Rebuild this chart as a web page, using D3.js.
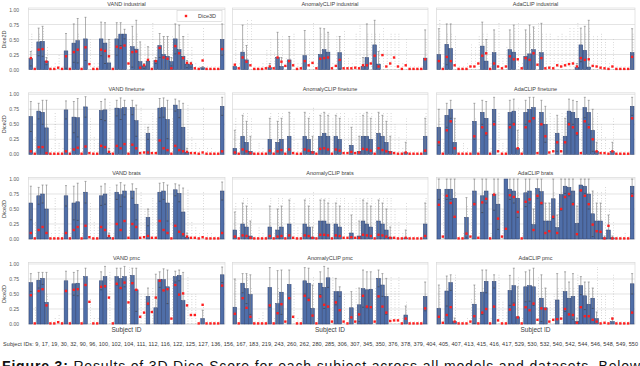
<!DOCTYPE html>
<html>
<head>
<meta charset="utf-8">
<script src="https://cdn.jsdelivr.net/npm/d3@7"></script>
<style>
body { margin: 0; background: #fff; }
text { font-family: "Liberation Sans", Arial, sans-serif; }
</style>
</head>
<body>
<div id="vis"></div>
<script>
// subjects shown on every panel
var subjects = [9, 17, 19, 30, 32, 90, 96, 100, 102, 104, 111, 112, 116, 122, 125, 127, 136, 156, 167, 183,
  219, 243, 260, 262, 280, 285, 306, 307, 345, 350, 376, 378, 379, 404, 405, 407, 413, 415, 416, 417,
  529, 530, 532, 540, 542, 544, 546, 548, 549, 550];

var yTicks = [0, 0.25, 0.5, 0.75, 1];

// ---- VAND ----
var vandIndMean = [0.18,0,0.46,0.47,0.14,0,0,0,0,0.31,0,0.44,0.48,0,0.51,0,0,0,0.51,0.44,0.11,0,0.51,0.59,0.59,0,0.38,0.34,0.13,0.06,0.14,0,0.15,0.40,0.25,0.22,0.13,0.51,0.33,0.22,0.09,0.08,0,0,0.03,0,0,0,0,0.50];
var vandIndHi   = [0.30,0,0.69,0.72,0.20,0,0,0,0,0.60,0,0.76,0.85,0,0.87,0,0,0,0.79,0.78,0.50,0,0.78,0.78,0.67,0,0.72,0.82,0.46,0.10,0.38,0,0.20,0.60,0.55,0.55,0.20,0.76,0.74,0.55,0.15,0.12,0,0,0.05,0,0,0,0,0.76];
var vandIndDice = [0.19,0.01,0.33,0.34,0.13,0.01,0.01,0.03,0.01,0.22,0.01,0.29,0.33,0.01,0.37,0.09,0.01,0.01,0.33,0.31,0.22,0.01,0.38,0.36,0.40,0.10,0.29,0.30,0.03,0.07,0.16,0.01,0.14,0.36,0.20,0.18,0.02,0.39,0.27,0.19,0.11,0.10,0.02,0.01,0.15,0.01,0.01,0.01,0.01,0.34];
var vandIndDots = [0.62,0.05,0.60,0.70,0.37,0.05,0.10,0.27,0.05,0.30,0.05,0.40,0.60,0.05,0.50,0.50,0.10,0.10,0.50,0.50,0.50,0.05,0.55,0.50,0.50,0.50,0.55,0.60,0.45,0.45,0.40,0.80,0.40,0.50,0.55,0.55,0.55,0.50,0.50,0.55,0.60,0.40,0.10,0.05,0.72,0.05,0.05,0.05,0.05,0.50];

var vandFtMean = [0.63,0,0.72,0.70,0.44,0,0,0,0,0.74,0,0.62,0.61,0,0.79,0,0,0,0.73,0.74,0.02,0,0.77,0.76,0.78,0,0.78,0.56,0,0,0.35,0,0,0.77,0.78,0.58,0,0.82,0.75,0.45,0.03,0,0,0,0,0,0,0,0,0.80];
var vandFtHi   = [0.88,0,0.85,0.90,0.90,0,0,0,0,0.89,0,0.88,0.93,0,0.96,0,0,0,0.88,0.92,0.10,0,0.90,0.94,0.90,0,0.90,0.82,0,0,0.45,0,0,0.93,0.94,0.90,0,0.92,0.89,0.85,0.10,0,0,0,0,0,0,0,0,0.95];
var vandFtDice = [0.05,0.01,0.12,0.12,0.02,0.01,0.01,0.01,0.01,0.05,0.01,0.08,0.11,0.01,0.13,0.02,0.01,0.01,0.14,0.12,0.04,0.01,0.14,0.10,0.17,0.01,0.16,0.10,0.02,0.03,0.03,0.02,0.02,0.23,0.10,0.07,0.01,0.14,0.07,0.05,0.04,0.02,0.02,0.01,0.03,0.01,0.01,0.01,0.01,0.05];
var vandFtDots = [0.40,0.30,0.50,0.50,0.50,0.10,0.70,0.20,0.10,0.50,0.10,0.50,0.50,0.10,0.50,0.60,0.30,0.20,0.50,0.50,0.90,0.10,0.50,0.50,0.50,0.20,0.50,0.50,0.80,0.50,0.50,0.70,0.60,0.50,0.50,0.50,0.60,0.50,0.50,0.50,0.85,0.30,0.20,0.10,0.80,0.10,0.10,0.05,0.05,0.50];

var vandBrMean = [0.60,0,0.72,0.75,0.50,0,0,0,0,0.72,0,0.60,0.62,0,0.78,0,0,0,0.72,0.75,0.03,0,0.78,0.74,0.80,0,0.80,0.58,0,0,0.36,0,0,0.78,0.80,0.60,0,0.82,0.76,0.45,0.03,0,0,0,0,0,0,0,0,0.80];
var vandBrHi   = [0.88,0,0.86,0.90,0.90,0,0,0,0,0.89,0,0.88,0.93,0,0.96,0,0,0,0.88,0.92,0.10,0,0.90,0.94,0.90,0,0.92,0.84,0,0,0.50,0,0,0.93,0.94,0.90,0,0.92,0.90,0.85,0.10,0,0,0,0,0,0,0,0,0.95];
var vandBrDice = [0.10,0.01,0.15,0.20,0.10,0.01,0.01,0.01,0.01,0.10,0.01,0.15,0.20,0.01,0.22,0.03,0.01,0.01,0.20,0.15,0.05,0.01,0.25,0.15,0.30,0.02,0.25,0.20,0.02,0.03,0.05,0.02,0.02,0.30,0.15,0.10,0.01,0.22,0.12,0.08,0.04,0.02,0.02,0.01,0.03,0.01,0.01,0.01,0.01,0.10];
var vandBrDots = [0.50,0.30,0.50,0.50,0.50,0.10,0.70,0.20,0.10,0.50,0.10,0.50,0.50,0.10,0.50,0.60,0.30,0.20,0.50,0.50,0.90,0.10,0.50,0.50,0.50,0.20,0.50,0.50,0.80,0.50,0.50,0.70,0.60,0.50,0.50,0.50,0.60,0.50,0.50,0.50,0.85,0.30,0.20,0.10,0.80,0.10,0.10,0.05,0.05,0.50];

var vandPmcMean = [0.69,0,0.73,0.76,0.36,0,0,0,0,0.72,0,0.67,0.68,0,0.79,0,0,0,0.72,0.79,0,0,0.79,0.76,0.79,0,0.81,0.57,0,0,0.46,0,0.27,0.74,0.74,0.62,0,0.79,0.81,0.39,0,0,0,0,0.09,0,0,0,0,0.82];
var vandPmcHi   = [0.84,0,0.86,0.86,0.86,0,0,0,0,0.88,0,0.86,0.89,0,0.93,0,0,0,0.87,0.96,0,0,0.93,0.93,0.96,0,0.93,0.93,0,0,0.60,0,0.83,0.87,0.92,0.90,0,0.88,0.90,0.86,0,0,0,0,0.23,0,0,0,0,0.95];
var vandPmcDice = [0.48,0.01,0.55,0.58,0.31,0.01,0.01,0.03,0.01,0.55,0.01,0.57,0.58,0.01,0.65,0.37,0.01,0.01,0.62,0.63,0.44,0.01,0.67,0.60,0.69,0.36,0.68,0.57,0.12,0.19,0.34,0.20,0.44,0.72,0.56,0.58,0.09,0.65,0.49,0.51,0.31,0.15,0.15,0.01,0.32,0.01,0.01,0.01,0.01,0.64];
var vandPmcDots = [0.50,0.30,0.50,0.50,0.50,0.05,0.10,0.15,0.05,0.50,0.05,0.50,0.50,0.05,0.50,0.45,0.10,0.10,0.50,0.50,0.90,0.05,0.50,0.50,0.50,0.95,0.50,0.50,0.50,0.50,0.50,0.60,0.50,0.50,0.50,0.50,0.80,0.50,0.50,0.50,0.80,0.50,0.50,0.05,0.30,0.05,0.05,0.05,0.05,0.50];

// ---- AnomalyCLIP ----
var acIndMean = [0.05,0,0.29,0.16,0,0,0,0,0,0.03,0,0.20,0.05,0,0.16,0,0,0,0.23,0,0,0,0.25,0.33,0.29,0,0,0.28,0,0,0,0,0,0.05,0.20,0,0.41,0.09,0,0,0,0,0,0,0,0,0,0,0,0.19];
var acIndHi   = [0,0,0.74,0.40,0,0,0,0,0,0.10,0,0.62,0.20,0,0.55,0,0,0,0.65,0,0,0,0.69,0.68,0.62,0,0,0.55,0,0,0,0,0,0.20,0.76,0,0.82,0.30,0,0,0,0,0,0,0,0,0,0,0,0.66];
var acIndDice = [0.08,0.02,0.20,0.13,0.07,0.01,0.01,0.01,0.02,0.05,0.02,0.20,0.13,0.06,0.14,0.07,0.01,0.02,0.14,0.07,0.11,0.02,0.18,0.19,0.20,0.02,0.06,0.16,0.02,0.02,0.02,0.03,0.02,0.07,0.07,0.10,0.23,0.05,0.24,0.05,0.10,0.20,0.05,0.01,0.07,0.01,0.01,0.01,0.01,0.17];
var acIndDots = [0.50,0.10,0.50,0.85,0.85,0.05,0.05,0.10,0.33,0.50,0.30,0.50,0.55,0.20,0.50,0.60,0.10,0.10,0.50,0.50,0.80,0.10,0.60,0.60,0.60,0.10,0.55,0.50,0.65,0.20,0.10,0.60,0.75,0.50,0.60,0.60,0.60,0.60,0.70,0.50,0.60,0.60,0.60,0.10,0.50,0.05,0.05,0.05,0.05,0.50];

var acFtMean = [0.10,0,0.30,0.20,0.05,0,0,0,0,0.25,0,0.20,0.25,0,0.30,0,0,0,0.30,0.25,0.05,0,0.30,0.35,0.30,0,0.30,0.25,0,0,0.15,0,0.05,0.30,0.30,0.25,0,0.35,0.30,0.20,0.05,0,0,0,0.03,0,0,0,0,0.30];
var acFtHi   = [0.40,0,0.65,0.55,0.30,0,0,0,0,0.60,0,0.55,0.60,0,0.70,0,0,0,0.70,0.60,0.30,0,0.65,0.70,0.65,0,0.65,0.60,0,0,0.45,0,0.30,0.65,0.70,0.60,0,0.70,0.65,0.55,0.30,0,0,0,0.20,0,0,0,0,0.60];
var acFtDice = [0.03,0.01,0.08,0.05,0.02,0.01,0.01,0.01,0.01,0.06,0.01,0.05,0.07,0.01,0.08,0.02,0.01,0.01,0.08,0.06,0.03,0.01,0.09,0.10,0.08,0.01,0.08,0.06,0.02,0.02,0.04,0.02,0.03,0.09,0.08,0.06,0.01,0.10,0.07,0.05,0.03,0.02,0.01,0.01,0.03,0.01,0.01,0.01,0.01,0.06];
var acFtDots = [0.60,0.20,0.70,0.70,0.60,0.05,0.20,0.10,0.05,0.70,0.10,0.70,0.70,0.10,0.70,0.60,0.20,0.10,0.70,0.70,0.80,0.10,0.70,0.70,0.70,0.60,0.70,0.70,0.70,0.60,0.60,0.70,0.70,0.70,0.70,0.70,0.60,0.70,0.70,0.70,0.70,0.50,0.30,0.10,0.60,0.05,0.05,0.05,0.05,0.70];

var acBrMean = [0.15,0,0.25,0.20,0.05,0,0,0,0,0.20,0,0.15,0.20,0,0.25,0,0,0,0.25,0.20,0.03,0,0.30,0.30,0.25,0,0.25,0.20,0,0,0.10,0,0.05,0.30,0.25,0.20,0,0.30,0.25,0.15,0.03,0,0,0,0.02,0,0,0,0,0.25];
var acBrHi   = [0.45,0,0.60,0.55,0.30,0,0,0,0,0.55,0,0.50,0.55,0,0.65,0,0,0,0.65,0.55,0.20,0,0.65,0.65,0.60,0,0.60,0.55,0,0,0.40,0,0.30,0.65,0.60,0.55,0,0.65,0.60,0.50,0.20,0,0,0,0.15,0,0,0,0,0.60];
var acBrDice = [0.04,0.01,0.06,0.05,0.02,0.01,0.01,0.01,0.01,0.05,0.01,0.04,0.05,0.01,0.06,0.02,0.01,0.01,0.06,0.05,0.02,0.01,0.07,0.07,0.06,0.01,0.06,0.05,0.02,0.02,0.03,0.02,0.02,0.07,0.06,0.05,0.01,0.07,0.06,0.04,0.02,0.02,0.01,0.01,0.02,0.01,0.01,0.01,0.01,0.05];
var acBrDots = [0.60,0.20,0.70,0.70,0.60,0.05,0.20,0.10,0.05,0.70,0.10,0.70,0.70,0.10,0.70,0.60,0.20,0.10,0.70,0.70,0.80,0.10,0.70,0.70,0.70,0.60,0.70,0.70,0.70,0.60,0.60,0.70,0.70,0.70,0.70,0.70,0.60,0.70,0.70,0.70,0.70,0.50,0.30,0.10,0.60,0.05,0.05,0.05,0.05,0.70];

var acPmcMean = [0.28,0,0.68,0.59,0.49,0,0,0,0,0.61,0,0.34,0.53,0,0.66,0,0,0,0.72,0.68,0.26,0,0.68,0.61,0.77,0,0.54,0.54,0,0,0.27,0,0.32,0.59,0.57,0.58,0,0.76,0.65,0.46,0,0,0,0,0.15,0,0,0,0,0.46];
var acPmcHi   = [0.75,0,0.84,0.84,0.82,0,0,0,0,0.94,0,0.89,0.90,0,0.90,0,0,0,0.94,0.93,0.65,0,0.87,0.96,0.93,0,0.76,0.62,0,0,0.54,0,0.60,0.90,0.87,0.87,0,0.90,0.84,0.76,0,0,0,0,0.30,0,0,0,0,0.70];
var acPmcDice = [0.17,0.01,0.43,0.27,0.12,0.01,0.01,0.01,0.01,0.31,0.01,0.18,0.33,0.04,0.43,0.12,0.01,0.01,0.47,0.40,0.14,0.01,0.46,0.32,0.29,0.04,0.36,0.23,0.04,0.01,0.11,0.04,0.16,0.47,0.29,0.28,0.04,0.46,0.29,0.19,0.05,0.06,0.06,0.01,0.09,0.01,0.01,0.01,0.01,0.26];
var acPmcDots = [0.75,0.10,0.70,0.85,0.60,0.05,0.10,0.20,0.05,0.50,0.10,0.60,0.50,0.10,0.50,0.60,0.10,0.10,0.50,0.50,0.80,0.10,0.50,0.50,0.50,0.80,0.50,0.50,0.50,0.10,0.50,0.60,0.50,0.50,0.50,0.50,0.60,0.50,0.50,0.50,0.80,0.60,0.80,0.10,0.40,0.05,0.05,0.05,0.05,0.50];

// ---- AdaCLIP ----
var adIndMean = [0.25,0,0.42,0.35,0,0,0,0,0,0,0,0.39,0.14,0,0.28,0,0,0,0.33,0.29,0,0,0.22,0.26,0.33,0,0.28,0,0,0,0,0,0,0,0,0.03,0.41,0.32,0.04,0,0,0,0,0,0,0,0,0,0,0.28];
var adIndHi   = [0.68,0,0.76,0.76,0,0,0,0,0,0,0,0.79,0.50,0,0.66,0,0,0,0.66,0.74,0,0,0.66,0.74,0.71,0,0.77,0,0,0,0,0,0,0,0,0.10,0.69,0.72,0.82,0,0,0,0,0,0,0,0,0,0,0.68];
var adIndDice = [0.14,0.01,0.21,0.14,0.07,0.01,0.01,0.01,0.05,0.05,0.10,0.23,0.27,0.01,0.10,0.05,0.02,0.05,0.22,0.17,0.17,0.02,0.19,0.16,0.27,0.08,0.19,0.02,0.03,0.02,0.07,0.05,0.07,0.09,0.10,0.05,0.19,0.16,0.17,0.06,0.05,0.03,0.02,0.01,0.05,0.01,0.01,0.01,0.01,0.21];
var adIndDots = [0.85,0.10,0.60,0.60,0.55,0.05,0.05,0.10,0.45,0.40,0.55,0.60,0.60,0.10,0.60,0.80,0.20,0.40,0.60,0.70,0.80,0.10,0.60,0.60,0.70,0.80,0.60,0.60,0.60,0.50,0.55,0.60,0.55,0.70,0.70,0.80,0.60,0.60,0.70,0.55,0.55,0.60,0.50,0.10,0.50,0.05,0.05,0.05,0.05,0.60];

var adFtMean = [0.45,0,0.65,0.75,0.20,0,0,0,0,0.55,0,0.70,0.60,0,0.75,0,0,0,0.70,0.72,0.10,0,0.70,0.75,0.78,0,0.70,0.50,0,0,0.35,0,0.30,0.72,0.70,0.60,0,0.78,0.70,0.40,0.05,0,0,0,0.05,0,0,0,0,0.80];
var adFtHi   = [0.75,0,0.85,0.90,0.60,0,0,0,0,0.85,0,0.90,0.88,0,0.95,0,0,0,0.90,0.92,0.40,0,0.90,0.95,0.95,0,0.90,0.80,0,0,0.65,0,0.60,0.92,0.90,0.88,0,0.95,0.90,0.75,0.20,0,0,0,0.20,0,0,0,0,0.95];
var adFtDice = [0.20,0.01,0.40,0.55,0.10,0.01,0.01,0.01,0.01,0.30,0.01,0.45,0.35,0.01,0.50,0.05,0.01,0.01,0.45,0.50,0.10,0.01,0.45,0.55,0.60,0.02,0.50,0.30,0.03,0.05,0.20,0.05,0.20,0.50,0.45,0.35,0.02,0.55,0.45,0.25,0.05,0.02,0.02,0.01,0.05,0.01,0.01,0.01,0.01,0.60];
var adFtDots = [0.60,0.20,0.60,0.60,0.60,0.05,0.20,0.10,0.05,0.60,0.10,0.60,0.60,0.10,0.60,0.70,0.20,0.10,0.60,0.60,0.80,0.10,0.60,0.60,0.60,0.60,0.60,0.60,0.70,0.60,0.60,0.70,0.70,0.60,0.60,0.60,0.60,0.60,0.60,0.60,0.70,0.50,0.30,0.10,0.60,0.05,0.05,0.05,0.05,0.60];

var adBrMean = [0.83,0,0.83,0.83,0.68,0,0,0.36,0,0.80,0,0.72,0.80,0,0.74,0.58,0,1.00,0.83,0.80,0.68,0,0.77,0.80,0.24,0.84,0.79,0.30,0.30,0.67,0.19,0.74,0.88,0.86,0.80,0.26,0.90,0.88,0.75,0.42,0.30,0.30,0.02,0.15,0.02,0,0,0,0,0.88];
var adBrHi   = [1,0,1,1,1,0,0,0.69,0,1,0,1,1,0,1,1,0,1,1,1,1,0,1,1,0.50,1,1,0.60,0.60,1,0.40,1,1,1,1,0.55,1,1,1,0.80,0.60,0.60,0.05,0.40,0.05,0,0,0,0,1];
var adBrDice = [0.57,0.04,0.72,0.60,0.37,0.01,0.01,0.09,0.04,0.58,0.02,0.61,0.67,0.01,0.74,0.34,0.04,0.17,0.73,0.70,0.45,0.01,0.62,0.66,0.15,0.72,0.60,0.10,0.13,0.37,0.10,0.50,0.70,0.75,0.58,0.08,0.81,0.72,0.58,0.24,0.13,0.12,0.01,0.22,0.01,0.01,0.01,0.01,0.01,0.72];
var adBrDots = [0.80,0.75,0.80,0.80,0.80,0.05,0.10,0.55,0.55,0.80,0.10,0.80,0.80,0.10,0.80,0.80,0.50,0.80,0.80,0.80,0.80,0.10,0.80,0.80,0.60,0.80,0.80,0.60,0.60,0.80,0.60,0.80,0.80,0.80,0.80,0.60,0.80,0.80,0.80,0.80,0.80,0.80,0.90,0.50,0.30,0.05,0.05,0.10,0.05,0.80];

var adPmcMean = [0.26,0,0.55,0.69,0.04,0,0,0,0,0.33,0,0.53,0.71,0,0.71,0,0,0,0.56,0.64,0.12,0,0.62,0.64,0.62,0,0.43,0.27,0,0,0.40,0,0.54,0.43,0.46,0.04,0.64,0.47,0.33,0.43,0.09,0,0,0,0.04,0,0,0,0,0.67];
var adPmcHi   = [0.65,0,0.80,0.82,0.10,0,0,0,0,0.65,0,0.90,0.90,0,0.82,0,0,0,0.81,0.93,0.62,0,0.87,0.90,0.93,0,0.82,0.60,0,0,0.84,0,0.87,0.70,0.84,0.10,0.79,0.70,0.70,0.60,0.20,0,0,0,0.10,0,0,0,0,0.84];
var adPmcDice = [0.12,0.02,0.15,0.28,0.04,0.01,0.01,0.01,0.04,0.13,0.01,0.19,0.25,0.01,0.29,0.06,0.01,0.01,0.24,0.32,0.11,0.01,0.28,0.23,0.34,0.07,0.26,0.25,0.04,0.07,0.08,0.09,0.25,0.16,0.15,0.02,0.28,0.13,0.13,0.07,0.04,0.01,0.02,0.01,0.09,0.01,0.01,0.01,0.01,0.19];
var adPmcDots = [0.60,0.10,0.60,0.60,0.85,0.05,0.05,0.10,0.45,0.60,0.10,0.60,0.60,0.10,0.60,0.85,0.40,0.20,0.60,0.60,0.80,0.10,0.60,0.60,0.60,0.80,0.60,0.60,0.40,0.50,0.60,0.60,0.60,0.60,0.60,0.85,0.60,0.60,0.60,0.60,0.95,0.50,0.50,0.10,0.85,0.05,0.05,0.05,0.05,0.60];

var titles = [
  ["VAND industrial", "AnomalyCLIP industrial", "AdaCLIP industrial"],
  ["VAND finetune", "AnomalyCLIP finetune", "AdaCLIP finetune"],
  ["VAND brats", "AnomalyCLIP brats", "AdaCLIP brats"],
  ["VAND pmc", "AnomalyCLIP pmc", "AdaCLIP pmc"]
];

var subjectLine = "Subject IDs: " + subjects.join(", ");
var captionBold = "Figure 3:";
var captionText = "Results of 3D Dice Score for each subject across all models and datasets. Below";

// panel table built from the arrays above (row, col)
var panels = [
  [vandIndMean, vandIndHi, vandIndDice, vandIndDots, 0, 0],
  [acIndMean, acIndHi, acIndDice, acIndDots, 0, 1],
  [adIndMean, adIndHi, adIndDice, adIndDots, 0, 2],
  [vandFtMean, vandFtHi, vandFtDice, vandFtDots, 1, 0],
  [acFtMean, acFtHi, acFtDice, acFtDots, 1, 1],
  [adFtMean, adFtHi, adFtDice, adFtDots, 1, 2],
  [vandBrMean, vandBrHi, vandBrDice, vandBrDots, 2, 0],
  [acBrMean, acBrHi, acBrDice, acBrDots, 2, 1],
  [adBrMean, adBrHi, adBrDice, adBrDots, 2, 2],
  [vandPmcMean, vandPmcHi, vandPmcDice, vandPmcDots, 3, 0],
  [acPmcMean, acPmcHi, acPmcDice, acPmcDots, 3, 1],
  [adPmcMean, adPmcHi, adPmcDice, adPmcDots, 3, 2]
].map(function(p) {
  return {mean: p[0], hi: p[1], dice: p[2], dots: p[3], row: p[4], col: p[5]};
});

// layout
var svgWidth = 640, svgHeight = 366;
var colRange = [[29, 224], [233, 427], [437, 634]];
var rowTop = [9.5, 94.3, 179, 264];
var plotH = 60;

var barFill = "#4f6ea8", barStroke = "#2c4170";
var gridColor = "#d9d9d9";
var textColor = "#404040";

var svg = d3.select("#vis").append("svg")
  .attr("width", svgWidth)
  .attr("height", svgHeight);

svg.append("rect").attr("width", svgWidth).attr("height", svgHeight).attr("fill", "white");

panels.forEach(function(p) {
  var x = d3.scaleBand().domain(subjects).range(colRange[p.col]).paddingInner(0.05);
  var y = d3.scaleLinear().domain([0, 1]).range([rowTop[p.row] + plotH, rowTop[p.row]]);
  var bw = x.bandwidth();
  var g = svg.append("g");
  var rows = subjects.map(function(s, i) {
    return {s: s, mean: p.mean[i], hi: p.hi[i], dice: p.dice[i], dots: p.dots[i]};
  });

  // frame and gridlines
  g.append("rect")
    .attr("x", colRange[p.col][0] - 0.5)
    .attr("y", y(1) - 1.5)
    .attr("width", colRange[p.col][1] - colRange[p.col][0] + 1.5)
    .attr("height", plotH + 1.5)
    .attr("fill", "none")
    .attr("stroke", gridColor)
    .attr("stroke-width", 0.7);

  g.selectAll(".grid")
    .data(yTicks)
    .enter().append("line")
    .attr("x1", colRange[p.col][0] - 0.5)
    .attr("x2", colRange[p.col][1] + 1)
    .attr("y1", function(d) { return y(d); })
    .attr("y2", function(d) { return y(d); })
    .attr("stroke", gridColor)
    .attr("stroke-width", 0.7);

  // per-slice dice, drawn as sparse dotted columns
  g.selectAll(".dots")
    .data(rows)
    .enter().append("line")
    .attr("x1", function(d) { return x(d.s) + bw * 0.75; })
    .attr("x2", function(d) { return x(d.s) + bw * 0.75; })
    .attr("y1", y(0))
    .attr("y2", function(d) { return y(d.dots); })
    .attr("stroke", "#111")
    .attr("stroke-width", 0.6)
    .attr("stroke-dasharray", "0.5,2.2")
    .attr("opacity", 0.55);

  // mean Dice2D bars
  g.selectAll(".bar")
    .data(rows.filter(function(d) { return d.mean > 0; }))
    .enter().append("rect")
    .attr("x", function(d) { return x(d.s); })
    .attr("y", function(d) { return y(d.mean); })
    .attr("width", bw)
    .attr("height", function(d) { return y(0) - y(d.mean); })
    .attr("fill", barFill)
    .attr("stroke", barStroke)
    .attr("stroke-width", 0.5);

  // std error bars
  var err = rows.filter(function(d) { return d.hi > d.mean; });
  var cx = function(d) { return x(d.s) + bw / 2; };
  var lo = function(d) { return Math.max(0, 2 * d.mean - d.hi); };
  g.selectAll(".err")
    .data(err)
    .enter().append("line")
    .attr("x1", cx).attr("x2", cx)
    .attr("y1", function(d) { return y(lo(d)); })
    .attr("y2", function(d) { return y(d.hi); })
    .attr("stroke", "#7a7a7a")
    .attr("stroke-width", 0.6);
  g.selectAll(".capHi")
    .data(err)
    .enter().append("line")
    .attr("x1", function(d) { return cx(d) - 1; })
    .attr("x2", function(d) { return cx(d) + 1; })
    .attr("y1", function(d) { return y(d.hi); })
    .attr("y2", function(d) { return y(d.hi); })
    .attr("stroke", "#7a7a7a")
    .attr("stroke-width", 0.6);
  g.selectAll(".capLo")
    .data(err.filter(function(d) { return lo(d) > 0; }))
    .enter().append("line")
    .attr("x1", function(d) { return cx(d) - 1; })
    .attr("x2", function(d) { return cx(d) + 1; })
    .attr("y1", function(d) { return y(lo(d)); })
    .attr("y2", function(d) { return y(lo(d)); })
    .attr("stroke", "#3a3a3a")
    .attr("stroke-width", 0.6);

  // Dice3D markers
  g.selectAll(".d3d")
    .data(rows)
    .enter().append("rect")
    .attr("x", function(d) { return cx(d) - 1.2; })
    .attr("y", function(d) { return y(d.dice) - 1.2; })
    .attr("width", 2.4)
    .attr("height", 2.4)
    .attr("fill", "#ff1f1f");

  // title
  g.append("text")
    .attr("x", (colRange[p.col][0] + colRange[p.col][1]) / 2)
    .attr("y", y(1) - 3.8)
    .attr("text-anchor", "middle")
    .attr("font-size", 5.5)
    .attr("fill", textColor)
    .text(titles[p.row][p.col]);

  // y axis only on the left column
  if (p.col == 0) {
    var ax = g.append("g")
      .attr("transform", "translate(" + (colRange[0][0] - 10) + ",0)")
      .call(d3.axisLeft(y).tickValues(yTicks).tickFormat(d3.format(".2f")).tickSize(0).tickPadding(0));
    ax.select(".domain").remove();
    ax.selectAll("text").attr("font-size", 5).attr("fill", "#595959")
      .attr("font-family", "Liberation Sans, Arial, sans-serif");
    g.append("text")
      .attr("transform", "translate(6," + (y(0.5)) + ") rotate(-90)")
      .attr("text-anchor", "middle")
      .attr("font-size", 5.5)
      .attr("fill", textColor)
      .text("Dice2D");
  }

  // x label only on the bottom row
  if (p.row == 3) {
    g.append("text")
      .attr("x", (colRange[p.col][0] + colRange[p.col][1]) / 2)
      .attr("y", y(0) + 7.5)
      .attr("text-anchor", "middle")
      .attr("font-size", 6.5)
      .attr("fill", textColor)
      .text("Subject ID");
  }

  // legend in the first panel
  if (p.row == 0 && p.col == 0) {
    g.append("rect")
      .attr("x", 177).attr("y", 10.5).attr("width", 45).attr("height", 11)
      .attr("fill", "white").attr("stroke", "#d0d0d0").attr("stroke-width", 0.6);
    g.append("rect")
      .attr("x", 184.8).attr("y", 14.8).attr("width", 2.4).attr("height", 2.4)
      .attr("fill", "#ff1f1f");
    g.append("text")
      .attr("x", 198).attr("y", 17.9)
      .attr("font-size", 5.5).attr("fill", textColor)
      .text("Dice3D");
  }
});

// subject id list under the panels
svg.append("text")
  .attr("x", 3).attr("y", 346)
  .attr("font-size", 5.5)
  .attr("fill", "#333")
  .attr("textLength", 635)
  .attr("lengthAdjust", "spacing")
  .text(subjectLine);

// caption, cut off by the bottom edge like in the source figure
var cap = svg.append("text")
  .attr("x", 2).attr("y", 370.5)
  .attr("font-size", 14)
  .attr("fill", "#111")
  .attr("textLength", 638)
  .attr("lengthAdjust", "spacing");
cap.append("tspan").attr("font-weight", "bold").text(captionBold + " ");
cap.append("tspan").text(captionText);
</script>
</body>
</html>
